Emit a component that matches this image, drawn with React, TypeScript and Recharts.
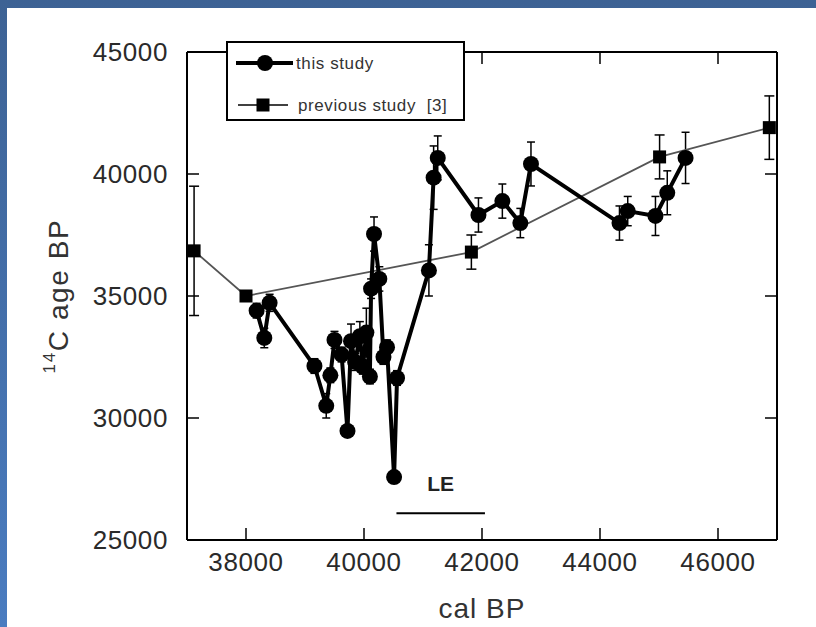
import { ScatterChart, Scatter, XAxis, YAxis, ErrorBar, ReferenceLine, Label, Legend } from "recharts"

// this study: cal BP, 14C age BP, 1 sigma
const thisCal = [38180, 38310, 38400, 39160, 39360, 39430, 39500, 39620, 39720, 39780, 39850, 39930, 39980, 40040, 40100, 40120, 40170, 40260, 40330, 40390, 40510, 40560, 41100, 41180, 41250, 41940, 42345, 42650, 42830, 44330, 44470, 44940, 45140, 45450]
const thisC14 = [34400, 33280, 34720, 32130, 30500, 31750, 33200, 32600, 29470, 33150, 32300, 33350, 32100, 33500, 31700, 35300, 37540, 35700, 32500, 32900, 27580, 31640, 36050, 39850, 40660, 38320, 38890, 37990, 40410, 37990, 38480, 38280, 39230, 40660]
const thisErr = [300, 400, 350, 300, 500, 300, 350, 300, 200, 700, 350, 600, 300, 1000, 300, 400, 700, 500, 300, 300, 200, 300, 1050, 1300, 900, 700, 700, 600, 900, 700, 600, 800, 900, 1050]

// previous study [3]
const prevCal = [37120, 38000, 41820, 45010, 46870]
const prevC14 = [36850, 35000, 36800, 40700, 41900]
const prevErr = [2650, 150, 700, 900, 1300]

const seriesNames = ["this study", "previous study  [3]"]
const xTicks = [38000, 40000, 42000, 44000, 46000]
const yTicks = [25000, 30000, 35000, 40000, 45000]
const leRange = [40550, 42050]
const leLevel = 26100

const thisData = thisCal.map((x, i) => ({ x, y: thisC14[i], err: thisErr[i] }))
const prevData = prevCal.map((x, i) => ({ x, y: prevC14[i], err: prevErr[i] }))

const font = "'Liberation Sans', Arial, sans-serif"
const tickStyle = { fill: "#2a2a2a", fontSize: 26, fontFamily: font, letterSpacing: 0.6 }
const axisLine = { stroke: "#000", strokeWidth: 2 }
const tickLine = { stroke: "#000", strokeWidth: 1.5 }
const noLabel = () => <g />

const Dot = (p: any) => <circle cx={p.cx} cy={p.cy} r={8} fill="#000" />
const Sq = (p: any) => <rect x={p.cx - 6.5} y={p.cy - 6.5} width={13} height={13} fill="#000" />

const YTitle = ({ viewBox }: any) => {
  const x = viewBox.x - 39
  const y = viewBox.y + viewBox.height / 2
  return (
    <text x={x} y={y} transform={`rotate(-90 ${x} ${y})`} textAnchor="middle" fill="#333" fontFamily={font} letterSpacing={1.6}>
      <tspan fontSize={17} dy={-13}>14</tspan>
      <tspan fontSize={28} dy={13}>C age BP</tspan>
    </text>
  )
}

const LegendBox = () => (
  <div style={{ boxSizing: "border-box", width: 239, height: 80, border: "2px solid #000", background: "#fff" }}>
    <svg width={235} height={76} style={{ display: "block" }}>
      <line x1={8} y1={20} x2={65} y2={20} stroke="#000" strokeWidth={4} />
      <circle cx={37} cy={20} r={8} fill="#000" />
      <text x={68} y={26} fontSize={17} fontFamily={font} fill="#333" letterSpacing={0.6}>{seriesNames[0]}</text>
      <line x1={10} y1={62} x2={60} y2={62} stroke="#000" strokeWidth={1.5} />
      <rect x={28.5} y={55.5} width={13} height={13} fill="#000" />
      <text x={70} y={68} fontSize={17} fontFamily={font} fill="#333" letterSpacing={0.6} style={{ whiteSpace: "pre" }}>{seriesNames[1]}</text>
    </svg>
  </div>
)

export default function App() {
  return (
    <div style={{ position: "absolute", left: 0, top: 0, width: 816, height: 627, overflow: "hidden", background: "linear-gradient(180deg, #3d6294 0%, #4a7cc0 100%)" }}>
      <div style={{ position: "absolute", left: 7, top: 8, width: 809, height: 619, background: "#fff" }}>
        <ScatterChart width={809} height={619} margin={{ top: 43, right: 38, bottom: 7, left: 100 }}>
          <XAxis type="number" dataKey="x" domain={[37000, 47000]} ticks={xTicks} allowDataOverflow
            tickSize={-12} tickMargin={25} height={80} tick={tickStyle} axisLine={axisLine} tickLine={tickLine}>
            <Label value="cal BP" position="insideBottom" offset={2} fill="#333" fontSize={28} fontFamily={font} letterSpacing={1} />
          </XAxis>
          <XAxis xAxisId="top" orientation="top" type="number" dataKey="x" domain={[37000, 47000]} ticks={xTicks} allowDataOverflow
            tickSize={-12} tick={noLabel} height={1} axisLine={axisLine} tickLine={tickLine} />
          <YAxis type="number" dataKey="y" domain={[25000, 45000]} ticks={yTicks} allowDataOverflow
            tickSize={-12} tickMargin={31} width={80} tick={tickStyle} axisLine={axisLine} tickLine={tickLine}>
            <Label content={YTitle} />
          </YAxis>
          <YAxis yAxisId="right" orientation="right" type="number" dataKey="y" domain={[25000, 45000]} ticks={yTicks} allowDataOverflow
            tickSize={-12} tick={noLabel} width={1} axisLine={axisLine} tickLine={tickLine} />
          <ReferenceLine segment={[{ x: leRange[0], y: leLevel }, { x: leRange[1], y: leLevel }]} stroke="#000" strokeWidth={2} ifOverflow="visible">
            <Label value="LE" position="top" offset={22} fill="#222" fontSize={21} fontWeight="bold" fontFamily={font} />
          </ReferenceLine>
          <Scatter name={seriesNames[1]} data={prevData} shape={Sq} line={{ stroke: "#555", strokeWidth: 1.8 }} lineType="joint" isAnimationActive={false}>
            <ErrorBar dataKey="err" direction="y" width={5} stroke="#000" strokeWidth={1.5} />
          </Scatter>
          <Scatter name={seriesNames[0]} data={thisData} shape={Dot} line={{ stroke: "#000", strokeWidth: 4 }} lineType="joint" isAnimationActive={false}>
            <ErrorBar dataKey="err" direction="y" width={4} stroke="#000" strokeWidth={1.5} />
          </Scatter>
          <Legend content={() => <LegendBox />} layout="horizontal" verticalAlign="middle" align="center"
            wrapperStyle={{ left: 219, top: 33, width: 239, height: 80 }} />
        </ScatterChart>
      </div>
    </div>
  )
}
